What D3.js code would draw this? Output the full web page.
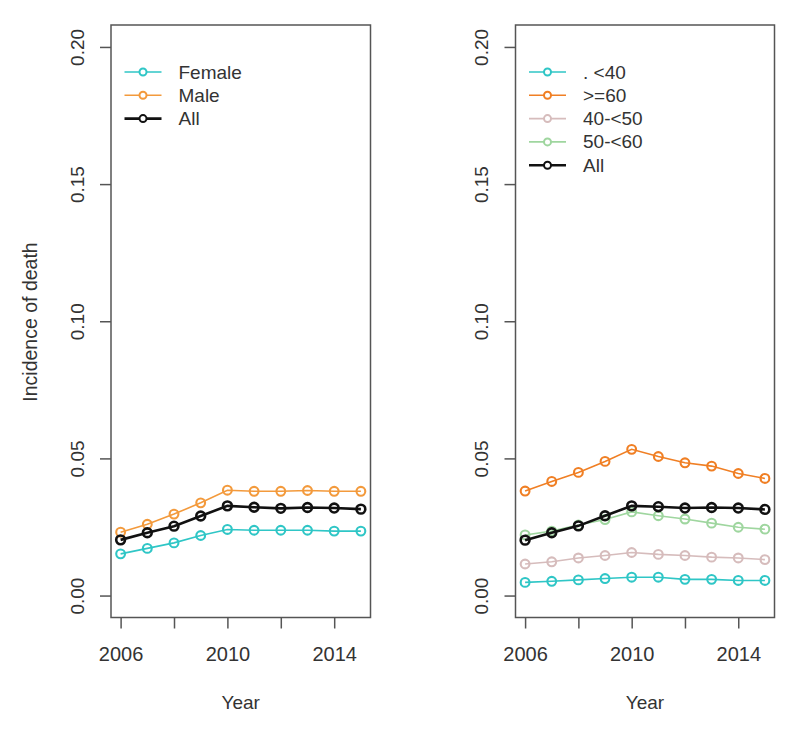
<!DOCTYPE html>
<html><head><meta charset="utf-8">
<script src="https://cdn.jsdelivr.net/npm/d3@7"></script>
<style>body{margin:0;background:#fff}svg{display:block}text{font-family:"Liberation Sans",Arial,sans-serif;fill:#333}</style>
</head><body><svg id="c" width="800" height="734"></svg>
<script>
const years = [2006,2007,2008,2009,2010,2011,2012,2013,2014,2015];
const xTicks = [2006,2008,2010,2012,2014];
const xTickLabels = ["2006","","2010","","2014"];
const yTicks = [0,0.05,0.10,0.15,0.20];
const yTickLabels = ["0.00","0.05","0.10","0.15","0.20"];

const sexNames = ["Female","Male","All"];
const female = [0.0152,0.0172,0.0192,0.0219,0.0241,0.0238,0.0238,0.0238,0.0235,0.0235];
const male   = [0.0231,0.0260,0.0297,0.0338,0.0384,0.0380,0.0380,0.0383,0.0380,0.0380];
const allL   = [0.0203,0.0229,0.0253,0.0290,0.0327,0.0322,0.0318,0.0321,0.0319,0.0315];

const ageNames = [". <40",">=60","40-<50","50-<60","All"];
const age40   = [0.0048,0.0052,0.0057,0.0062,0.0067,0.0067,0.0059,0.0059,0.0055,0.0055];
const age60   = [0.0381,0.0416,0.0449,0.0489,0.0533,0.0507,0.0484,0.0472,0.0445,0.0427];
const age4050 = [0.0115,0.0123,0.0137,0.0146,0.0157,0.0150,0.0146,0.0140,0.0137,0.0131];
const age5060 = [0.0221,0.0235,0.0257,0.0277,0.0305,0.0291,0.0279,0.0264,0.0249,0.0242];
const allR    = [0.0202,0.0229,0.0254,0.0291,0.0327,0.0324,0.0319,0.0321,0.0319,0.0314];

const C_CYAN="#2fc6c6", C_ORANGE="#f39a3c", C_ORANGE2="#f07f24", C_PINK="#d6bcbc", C_GREEN="#9fd69f", C_BLACK="#111";

const svg = d3.select("#c");
const yDomain = [-0.008, 0.208];
const xDomain = [2005.64, 2015.36];

function panel(left, right, series, showYLabel){
  const x = d3.scaleLinear().domain(xDomain).range([left,right]);
  const y = d3.scaleLinear().domain(yDomain).range([617.5,25]);
  const g = svg.append("g");
  g.append("rect").attr("x",left).attr("y",25).attr("width",right-left).attr("height",592.5)
   .attr("fill","none").attr("stroke","#555").attr("stroke-width",1.5);
  const xa = g.append("g").attr("transform","translate(0,617.5)")
    .call(d3.axisBottom(x).tickValues(xTicks).tickSize(11).tickPadding(18).tickFormat((d,i)=>xTickLabels[i]));
  xa.select(".domain").remove();
  xa.selectAll("line").attr("stroke","#555").attr("stroke-width",1.5);
  xa.selectAll("text").attr("font-size",20).attr("fill","#333").style("font-family","Liberation Sans, Arial, sans-serif");
  const ya = g.append("g").attr("transform",`translate(${left},0)`)
    .call(d3.axisLeft(y).tickValues(yTicks).tickSize(11).tickFormat((d,i)=>yTickLabels[i]));
  ya.select(".domain").remove();
  ya.selectAll("line").attr("stroke","#555").attr("stroke-width",1.5);
  ya.selectAll(".tick text").attr("font-size",19).attr("fill","#333")
    .style("font-family","Liberation Sans, Arial, sans-serif")
    .attr("x",null).attr("dy",null)
    .attr("text-anchor","middle")
    .attr("transform",`translate(${-34},0) rotate(-90)`)
    .attr("dominant-baseline","central");
  g.append("text").attr("x",(left+right)/2).attr("y",708.5).attr("text-anchor","middle").attr("font-size",19).text("Year");
  if(showYLabel){
    g.append("text").attr("transform",`translate(37,322) rotate(-90)`).attr("text-anchor","middle").attr("font-size",19.5).text("Incidence of death");
  }
  const line = d3.line().x((d,i)=>x(years[i])).y(d=>y(d));
  series.forEach(s=>{
    g.append("path").datum(s.v).attr("d",line).attr("fill","none").attr("stroke",s.c).attr("stroke-width",s.w);
    g.selectAll(null).data(s.v).enter().append("circle")
      .attr("cx",(d,i)=>x(years[i])).attr("cy",d=>y(d)).attr("r",4.4)
      .attr("fill","none").attr("stroke",s.c).attr("stroke-width",s.w>2?2.6:2.1);
  });
  return g;
}

function legend(g, x0, y0, items){
  items.forEach((it,i)=>{
    const yy = y0 + i*23.3;
    g.append("line").attr("x1",x0).attr("x2",x0+37).attr("y1",yy).attr("y2",yy).attr("stroke",it.c).attr("stroke-width",it.w);
    g.append("circle").attr("cx",x0+18.5).attr("cy",yy).attr("r",3.5).attr("fill","#fff").attr("stroke",it.c).attr("stroke-width",2);
    g.append("text").attr("x",x0+54).attr("y",yy).attr("dominant-baseline","central").attr("font-size",19).text(it.n);
  });
}

const leftSeries = [
  {n:sexNames[0], v:female, c:C_CYAN, w:1.6},
  {n:sexNames[1], v:male, c:C_ORANGE, w:1.6},
  {n:sexNames[2], v:allL, c:C_BLACK, w:2.6}
];
const gl = panel(111, 370.5, leftSeries, true);
legend(gl, 124.5, 72, leftSeries);

const rightSeries = [
  {n:ageNames[0], v:age40, c:C_CYAN, w:1.6},
  {n:ageNames[1], v:age60, c:C_ORANGE2, w:1.6},
  {n:ageNames[2], v:age4050, c:C_PINK, w:1.6},
  {n:ageNames[3], v:age5060, c:C_GREEN, w:1.6},
  {n:ageNames[4], v:allR, c:C_BLACK, w:2.6}
];
const gr = panel(515.5, 774.5, rightSeries, false);
legend(gr, 529, 72, rightSeries);
</script></body></html>
